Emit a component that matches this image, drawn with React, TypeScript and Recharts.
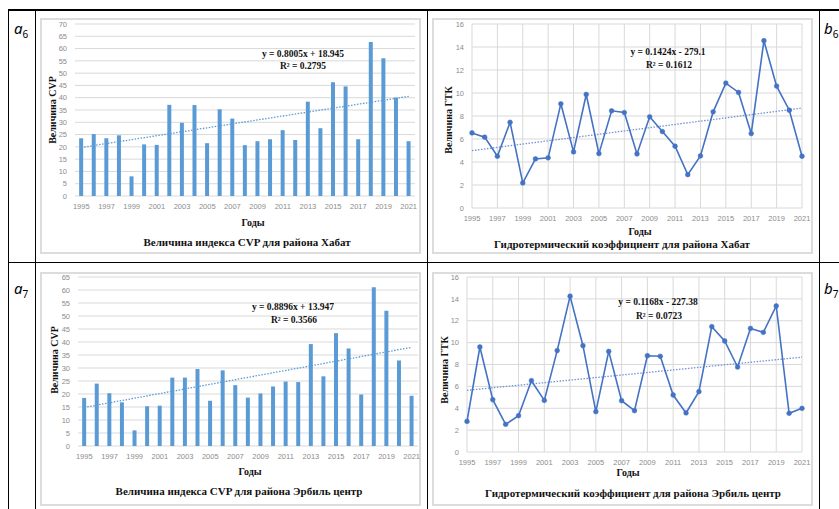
import { ComposedChart, Bar, LineChart, Line, XAxis, YAxis, CartesianGrid, ReferenceLine } from 'recharts';
import type { CSSProperties, ReactNode } from 'react';

// categories
const years = [
  '1995', '1996', '1997', '1998', '1999', '2000', '2001', '2002', '2003',
  '2004', '2005', '2006', '2007', '2008', '2009', '2010', '2011', '2012',
  '2013', '2014', '2015', '2016', '2017', '2018', '2019', '2020', '2021',
];

// CVP index, Khabat
const cvpKhabat = [
  23.5, 25.2, 23.5, 24.7, 8.0, 21.0, 20.8, 37.1, 29.8, 37.0, 21.5, 35.3, 31.5, 20.7,
  22.3, 23.1, 26.8, 22.8, 38.4, 27.6, 46.3, 44.6, 23.1, 62.7, 56.1, 40.0, 22.3,
];
// hydrothermal coefficient, Khabat
const gtkKhabat = [
  6.53, 6.16, 4.5, 7.45, 2.18, 4.27, 4.36, 9.06, 4.88, 9.87, 4.73, 8.45, 8.3, 4.7,
  7.93, 6.65, 5.37, 2.9, 4.53, 8.36, 10.86, 10.05, 6.47, 14.55, 10.6, 8.5, 4.5,
];
// CVP index, Erbil centre
const cvpErbil = [
  18.5, 24.0, 20.3, 16.8, 6.0, 15.3, 15.5, 26.3, 26.3, 29.6, 17.4, 29.1, 23.4, 18.6,
  20.2, 22.9, 24.8, 24.6, 39.2, 26.8, 43.4, 37.5, 19.8, 61.1, 52.0, 32.9, 19.3,
];
// hydrothermal coefficient, Erbil centre
const gtkErbil = [
  2.8, 9.6, 4.78, 2.53, 3.32, 6.52, 4.72, 9.27, 14.25, 9.72, 3.69, 9.2, 4.69, 3.78,
  8.8, 8.75, 5.21, 3.57, 5.52, 11.46, 10.15, 7.77, 11.3, 10.94, 13.35, 3.54, 3.99,
];

// trendline ends (first year, last year)
const trendCvpKhabat = [19.75, 40.56];
const trendGtkKhabat = [4.99, 8.69];
const trendCvpErbil = [14.84, 37.97];
const trendGtkErbil = [5.64, 8.67];

const cvpTicksKhabat = [0, 5, 10, 15, 20, 25, 30, 35, 40, 45, 50, 55, 60, 65, 70];
const cvpTicksErbil = [0, 5, 10, 15, 20, 25, 30, 35, 40, 45, 50, 55, 60, 65];
const gtkTicks = [0, 2, 4, 6, 8, 10, 12, 14, 16];

const serif = '"Liberation Serif", "Times New Roman", serif';
const tickStyle = { fill: '#8c8c8c', fontSize: 7.5, fontFamily: '"Liberation Sans", Arial, sans-serif' };
const barBlue = '#5b9bd5';
const lineBlue = '#4472c4';

function Txt({ x, y, size, children, rotate }: { x: number; y: number; size: number; children: ReactNode; rotate?: boolean }) {
  const style: CSSProperties = {
    position: 'absolute',
    left: x,
    top: y,
    transform: `translate(-50%, -50%)${rotate ? ' rotate(-90deg)' : ''}`,
    fontFamily: serif,
    fontWeight: 700,
    fontSize: size,
    lineHeight: 1,
    whiteSpace: 'nowrap',
    color: '#111',
  };
  return <div style={style}>{children}</div>;
}

function Frame({ x, y, w, h }: { x: number; y: number; w: number; h: number }) {
  return (
    <div
      style={{
        position: 'absolute', left: x, top: y, width: w, height: h,
        border: '2px solid #dcdcdc', boxSizing: 'border-box',
      }}
    />
  );
}

function Rule({ x, y, w, h }: { x: number; y: number; w: number; h: number }) {
  return <div style={{ position: 'absolute', left: x, top: y, width: w, height: h, background: '#000' }} />;
}

function Tag({ x, y, letter, num }: { x: number; y: number; letter: string; num: string }) {
  return (
    <div style={{ position: 'absolute', left: x, top: y, fontFamily: '"Noto Sans", sans-serif', fontStyle: 'italic', fontSize: 15, lineHeight: 1 }}>
      {letter}
      <span style={{ fontSize: 10, fontStyle: 'normal', position: 'relative', top: 4 }}>{num}</span>
    </div>
  );
}

interface CvpProps {
  values: number[];
  trend: number[];
  ticks: number[];
  left: number;
  top: number;
  height: number;
  yWidth: number;
  margin: { top: number; right: number; bottom: number };
}

function CvpChart({ values, trend, ticks, left, top, height, yWidth, margin }: CvpProps) {
  const data = years.map((year, i) => ({ year, value: values[i] }));
  return (
    <div style={{ position: 'absolute', left, top }}>
      <ComposedChart width={381} height={height} data={data} barCategoryGap="33%"
        margin={{ top: margin.top, right: margin.right, bottom: margin.bottom, left: 0 }}>
        <CartesianGrid vertical={false} stroke="#d9d9d9" strokeWidth={1} />
        <XAxis dataKey="year" interval={1} axisLine={false} tickLine={false} tick={tickStyle} />
        <YAxis domain={[0, ticks[ticks.length - 1]]} ticks={ticks} interval={0} width={yWidth}
          axisLine={false} tickLine={false} tick={tickStyle} />
        <Bar dataKey="value" fill={barBlue} isAnimationActive={false} />
        <ReferenceLine
          segment={[{ x: years[0], y: trend[0] }, { x: years[years.length - 1], y: trend[1] }]}
          stroke={barBlue} strokeWidth={1.3} strokeDasharray="1.5 1.5"
        />
      </ComposedChart>
    </div>
  );
}

function GtkChart({ values, trend, ticks, left, top, height, yWidth, margin }: CvpProps) {
  const data = years.map((year, i) => ({ year, value: values[i] }));
  return (
    <div style={{ position: 'absolute', left, top }}>
      <LineChart width={381} height={height} data={data}
        margin={{ top: margin.top, right: margin.right, bottom: margin.bottom, left: 0 }}>
        <CartesianGrid stroke="#d9d9d9" strokeWidth={1} />
        <XAxis dataKey="year" interval={1} axisLine={false} tickLine={false} tick={tickStyle} />
        <YAxis domain={[0, 16]} ticks={ticks} interval={0} width={yWidth}
          axisLine={false} tickLine={false} tick={tickStyle} />
        <ReferenceLine
          segment={[{ x: years[0], y: trend[0] }, { x: years[years.length - 1], y: trend[1] }]}
          stroke="#6f93d6" strokeWidth={1.3} strokeDasharray="1.5 1.5"
        />
        <Line dataKey="value" type="linear" stroke={lineBlue} strokeWidth={1.6}
          dot={{ r: 2.4, fill: lineBlue, stroke: lineBlue, strokeWidth: 0.5 }} isAnimationActive={false} />
      </LineChart>
    </div>
  );
}

export default function App() {
  return (
    <div style={{ position: 'absolute', left: 0, top: 0, width: 839, height: 509, background: '#fff', overflow: 'hidden' }}>
      {/* table rules */}
      <Rule x={8} y={9} w={831} h={1.5} />
      <Rule x={8} y={261.5} w={831} h={1.5} />
      <Rule x={7.5} y={9} w={1.5} h={500} />
      <Rule x={34.5} y={9} w={1.5} h={500} />
      <Rule x={426.5} y={9} w={1.5} h={500} />
      <Rule x={818.5} y={9} w={1.5} h={500} />

      <Tag x={14} y={21} letter="a" num="6" />
      <Tag x={824} y={21} letter="b" num="6" />
      <Tag x={14} y={281} letter="a" num="7" />
      <Tag x={824} y={281} letter="b" num="7" />

      {/* a6 */}
      <Frame x={40} y={18} w={381} h={236} />
      <CvpChart values={cvpKhabat} trend={trendCvpKhabat} ticks={cvpTicksKhabat}
        left={40} top={18} height={236} yWidth={35} margin={{ top: 6, right: 6, bottom: 28 }} />
      <Txt x={303} y={55} size={9.5}>y = 0.8005x + 18.945</Txt>
      <Txt x={303} y={67} size={9.5}>R² = 0.2795</Txt>
      <Txt x={53} y={110} size={10} rotate>Величина CVP</Txt>
      <Txt x={253} y={223} size={10}>Годы</Txt>
      <Txt x={247} y={242} size={11}>Величина индекса CVP для района Хабат</Txt>

      {/* b6 */}
      <Frame x={432} y={18} w={381} h={236} />
      <GtkChart values={gtkKhabat} trend={trendGtkKhabat} ticks={gtkTicks}
        left={432} top={18} height={236} yWidth={40} margin={{ top: 6, right: 11, bottom: 16 }} />
      <Txt x={668} y={53} size={9.5}>y = 0.1424x - 279.1</Txt>
      <Txt x={669} y={66} size={9.5}>R² = 0.1612</Txt>
      <Txt x={449} y={120} size={10} rotate>Величина ГТК</Txt>
      <Txt x={640} y={232} size={10}>Годы</Txt>
      <Txt x={622} y={244} size={11}>Гидротермический коэффициент для района Хабат</Txt>

      {/* a7 */}
      <Frame x={40} y={272} w={381} h={234} />
      <CvpChart values={cvpErbil} trend={trendCvpErbil} ticks={cvpTicksErbil}
        left={40} top={272} height={234} yWidth={38} margin={{ top: 5, right: 3, bottom: 30 }} />
      <Txt x={293} y={308} size={9.5}>y = 0.8896x + 13.947</Txt>
      <Txt x={294} y={321} size={9.5}>R² = 0.3566</Txt>
      <Txt x={55} y={360} size={10} rotate>Величина CVP</Txt>
      <Txt x={250} y={472} size={10}>Годы</Txt>
      <Txt x={239} y={491} size={11}>Величина индекса CVP для района Эрбиль центр</Txt>

      {/* b7 */}
      <Frame x={432} y={272} w={381} h={234} />
      <GtkChart values={gtkErbil} trend={trendGtkErbil} ticks={gtkTicks}
        left={432} top={272} height={234} yWidth={35} margin={{ top: 5, right: 11, bottom: 24 }} />
      <Txt x={658} y={303} size={9.5}>y = 0.1168x - 227.38</Txt>
      <Txt x={659} y={317} size={9.5}>R² = 0.0723</Txt>
      <Txt x={445} y={370} size={10} rotate>Величина ГТК</Txt>
      <Txt x={628} y={473} size={10}>Годы</Txt>
      <Txt x={633} y={493} size={11}>Гидротермический коэффициент для района Эрбиль центр</Txt>
    </div>
  );
}
